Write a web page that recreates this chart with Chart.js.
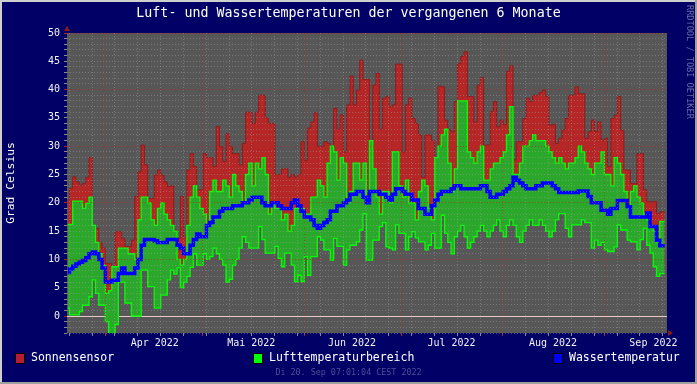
<!DOCTYPE html>
<html>
<head>
<meta charset="utf-8">
<script src="https://cdn.jsdelivr.net/npm/chart.js@4.4.0/dist/chart.umd.min.js"></script>
<style>
  html, body { margin: 0; padding: 0; background: #000066; }
  #wrap { width: 697px; height: 384px; position: relative; }
</style>
</head>
<body>
<div id="wrap"><canvas id="chart" width="697" height="384"></canvas></div>
<script>
const title = "Luft- und Wassertemperaturen der vergangenen 6 Monate";
const yTitle = "Grad Celsius";
const legendNames = ["Sonnensensor", "Lufttemperaturbereich", "Wassertemperatur"];
const stamp = "Di 20. Sep 07:01:04 CEST 2022";
const watermark = "RRDTOOL / TOBI OETIKER";

// x axis: days after Sa 20. Mar 2022 07:01 CET
const spanDays = 183.96;
const monthLabels = ["Apr 2022", "Mai 2022", "Jun 2022", "Jul 2022", "Aug 2022", "Sep 2022"];
const monthStarts = [11.67, 41.67, 72.67, 102.67, 133.67, 164.67];
const labelPos = [26.9, 56.5, 87.4, 117.9, 149.0, 179.8];
const yMin = -3, yMax = 50;

// one value per day (daily bins)
const sunMax = [20.5,22.6,24.6,23.7,23.1,23.4,24.5,28,15.8,15.5,13,
  12,9.3,9.3,7.5,14.9,14.9,13.7,12.3,12.3,13.4,
  21.1,25.5,30.2,26.7,20.8,20.8,24.9,25.8,24.9,23.7,
  22.9,23,15.2,13.7,21.1,14,25.8,28.7,26.4,22.3,
  22.3,28.7,28,28,26.4,33.5,29.9,27.3,32.2,29.9,
  28.7,28.7,26.7,30.5,36,36,34,36,
  39,39,35,34,34,25,25,26,26,24.5,
  25,24.5,25,30.8,27.5,33.2,34.3,35.9,30,30,
  30.8,30.5,29.5,36.7,33,35.5,29,37.3,42.4,37.3,
  39.9,45.2,41.8,41.8,27.5,40.8,42.9,33,38.5,38.8,
  37,37.3,44.5,44.5,29,37.3,38.5,34.9,34,32,
  24.5,32,32,31,27,
  40.6,40.5,34.6,33,32.6,37.9,44.6,45.9,46.7,38.8,38.8,
  34.3,40.8,42.1,30.2,30.2,36.1,37.9,33.4,34.6,33.8,
  43.2,44.2,27.6,30.8,30.8,34.9,38.5,37.9,39,39,
  39.5,39.9,38.8,33.7,33.9,30.5,31.4,32.9,34.9,39,
  39,40.5,39.3,39.3,31.4,32.6,34.6,32.6,34.3,31.1,
  31.4,26.4,34.9,35.5,38.8,32.8,25.8,25.8,23.4,23.4,
  28.7,28.7,22.3,20.2,20.2,
  20.2,18.1,18.4,18.4];

const sunMin = [2,1,1,1,1.5,2.5,2.5,4,7,5,3,
  2.5,2,2,2,0,7,7,3,3,1,
  1,1,9,9,6,6,2,2,4.5,4.5,
  7,9,8,9,6,7,8,9.5,12,10,
  10,12,11,11.5,13,12,11,10,7,7.5,
  10,11,13,15,14,13,13,13,16,14.5,
  12,12,12,13,11,10,12,12,10,7,
  8,7,11,8,11,11,15,14,12.5,12.5,
  11,14.5,13,13,10,12.5,13.5,13.5,14,16,
  19,11,11,14,14,16.5,17.5,13,13,12.5,
  17,15.5,15.5,12.5,15,16,15,14,14,12.5,
  13.5,15.5,13,13,18.5,15.5,14,12,15,16,
  17,15,13,14,15,16,17,16,15,16,
  17,18,16,15,17,18,17,15,14,16,
  17,18,17,17,18,17,16,15,16,18,
  19,19,16.5,15,17,17,17,18,17.5,17.5,
  13,14.5,13.5,14,12.5,12.5,12.5,13,17,16,
  16,14.5,14,14,12.5,14.5,16.5,13.5,12,9.5,8,8.5,8.5];

const airMax = [16.2,16.2,20.3,20.3,20.3,19,19.9,21,16,13,11,
  9,4,4.5,8.7,8.7,12,12,12,11,11,
  10,17,21,21,20,17,16,19,20,18,
  17,16,15,10,9,10,16,21,23,21,
  19,18,16,22,24,22,22,24,23,21,
  25,23,22,20,25,27,23,27,26,28,
  25,18,20,19,19,17,18,15,16,19,
  19,19,18,18,21,21,24,23,21,27,
  30,29,24,28,27,20,22,27,27,24,
  27,21,31,26,21,18,22,22,20,29,
  29,23,21,24,20,20,17,22,24,23,
  19,17,28,30,32,33,27,22,26,38,
  38,38,29,28,27,29,30,24,24,26,
  27,27,28,29,32,37,25,25,27,30,
  30,31,32,31,31,31,30,29,28,27,
  28,27,26,27,27,28,30,29,27,26,
  25,27,27,29,25,25,23,28,27,25,
  22,19,22,23,21,20,18,17,16,15,13,16.7,16.7];

const airMin = [1.4,0.2,0.2,0.2,0.8,1.9,1.9,3.4,6.4,4,1.9,
  1.9,-1,-3.5,-3.5,-1.5,6,6,2.3,2.3,0,
  0,0,8.1,8.1,5.2,5.2,1.4,1.4,3.7,3.7,
  6.4,8.1,7.4,8.5,5,6,7,8.6,11,9,
  9,11,10,10.5,12,11,10,9,6,6.5,
  9,10,12,14,13,12,12,12,15.8,13.5,
  11.1,11.1,11.1,12.3,10.2,8.7,11.1,11.1,9,6.1,
  7.2,6.1,10.5,7.2,10.5,10.5,14,13.4,11.7,11.7,
  9.9,13.7,12.3,12.3,9,11.7,12.5,12.5,13.1,15.2,
  18.1,9.9,9.9,13.4,13.4,15.8,16.5,12.2,12,11.7,
  16.1,14.6,14.6,11.7,14,14.9,13.8,13.1,13.1,11.7,
  12.5,14.6,12,12,17.8,14.6,13,11,14,15,
  16,14,12,13,14,15,16,15,14,15,
  16,17,15,14,16,17,16,14,13,15,
  16,17,16,16,17,16,15,14,15,17,
  18.1,18.1,15.5,14,16.1,16.1,16.1,17,16.5,16.5,
  12,13.4,12.5,13,11.7,11.4,11.4,12.2,16.1,15.2,
  15.2,13.4,13.1,13.1,11.7,13.5,15.5,12.5,11.1,8.7,7,7.5,7.5];

const water = [7.7,8.3,8.8,9.2,9.5,9.8,10.3,11,11.3,11,10,
  8.5,6,6,6.3,6.3,7.5,8.5,7.5,7.5,7.5,
  8.5,10,12.5,13.5,13.5,13.5,13.3,13,13,13,
  13.5,13.5,13.5,12.5,12,11,11,12.5,13.5,14.5,
  14,14,16,16.5,17.5,17.5,18.5,19,19,19,
  19.5,19.5,19.5,20,20,20.5,21,21,21,20,
  19.5,19.5,20,20,19.5,19,19,19,20,20.5,
  19.5,18.5,17.5,17.5,17,16,15.5,16,16.5,17,
  18.5,18.5,19.5,19.5,20,20.5,21.5,21.5,22,22,
  21,20,22,22,22,21.5,21.5,21,20.5,21.5,
  22.5,22.5,22,21.5,21.5,20.5,20.5,19,19,18,
  18,19.5,20.5,21.5,22,22,22,22.5,23,23,
  22.5,22.5,22.5,22.5,22.5,22.5,23,23,22,21,
  21,21.5,21.5,22,22.5,23,24.5,24,23.5,23,
  22.5,22.5,22.5,23,23,23.5,23.5,23.5,23,22.5,
  21.8,21.8,21.8,21.8,21.8,21.8,22.1,22.1,22.1,21.1,
  20,20,20,18.7,18.7,18,19,19,20.4,20.4,
  20.4,19.3,17.5,17.5,17.5,17.5,17.5,18.2,15.8,15.8,13.4,12.4,12.4];

// daily bins start at 00:00 UTC, i.e. 0.75 days after the left edge
const binCenter = (i) => i + 0.25;
const points = (arr) => arr.map((v, i) => ({ x: binCenter(i), y: v }));

const weekLines = [0.71];
for (let d = 7.67; d < spanDays; d += 7) weekLines.push(d);
const yTicks = [];
for (let v = yMin; v <= yMax; v++) yTicks.push(v);

const FONT = "'DejaVu Sans Mono', monospace";
const NAVY = "#000066";
const PLOT_BG = "#575757";
const MINOR = "rgba(165,165,165,0.42)";
const MAJOR = "rgba(185,40,40,0.7)";

const rrdDecor = {
  id: "rrdDecor",
  beforeDraw(chart) {
    const { ctx, chartArea: a, width, height } = chart;
    ctx.save();
    ctx.fillStyle = "#9e9e9e";
    ctx.fillRect(0, 0, width, height);
    ctx.fillStyle = "#cfcfcf";
    ctx.fillRect(0, 0, width - 2, 2);
    ctx.fillRect(0, 0, 2, height - 2);
    ctx.fillStyle = NAVY;
    ctx.fillRect(2, 2, width - 4, height - 4);
    ctx.fillStyle = PLOT_BG;
    ctx.fillRect(a.left, a.top, a.right - a.left, a.bottom - a.top);
    ctx.restore();
  },
  beforeDatasetsDraw(chart) {
    const { ctx, chartArea: a, scales } = chart;
    const y0 = Math.round(scales.y.getPixelForValue(0)) + 0.5;
    ctx.save();
    ctx.strokeStyle = "#e8c8c8";
    ctx.lineWidth = 1;
    ctx.beginPath();
    ctx.moveTo(a.left, y0);
    ctx.lineTo(a.right, y0);
    ctx.stroke();
    ctx.restore();
  },
  afterDraw(chart) {
    const { ctx, chartArea: a, width } = chart;
    ctx.save();
    // axis arrows
    ctx.fillStyle = "#8b1a1a";
    ctx.beginPath();
    ctx.moveTo(a.left - 3, a.top - 2);
    ctx.lineTo(a.left + 3, a.top - 2);
    ctx.lineTo(a.left, a.top - 7);
    ctx.closePath();
    ctx.fill();
    ctx.beginPath();
    ctx.moveTo(a.right + 1, a.bottom - 3);
    ctx.lineTo(a.right + 1, a.bottom + 3);
    ctx.lineTo(a.right + 6, a.bottom);
    ctx.closePath();
    ctx.fill();

    // title
    ctx.fillStyle = "#ffffff";
    ctx.font = "13.3px " + FONT;
    ctx.textAlign = "center";
    ctx.textBaseline = "middle";
    ctx.fillText(title, width / 2, 14);

    // y title
    ctx.save();
    ctx.translate(11, 183);
    ctx.rotate(-Math.PI / 2);
    ctx.font = "11.3px " + FONT;
    ctx.fillText(yTitle, 0, 0);
    ctx.restore();

    // legend
    const items = [
      { x: 16, color: "#b41e32", text: legendNames[0] },
      { x: 254, color: "#00ff00", text: legendNames[1] },
      { x: 554, color: "#0000ff", text: legendNames[2] },
    ];
    ctx.font = "11.5px " + FONT;
    ctx.textAlign = "left";
    items.forEach((it) => {
      ctx.fillStyle = it.color;
      ctx.fillRect(it.x, 354, 8, 9);
      ctx.strokeStyle = "#000000";
      ctx.lineWidth = 1;
      ctx.strokeRect(it.x - 0.5, 353.5, 9, 10);
      ctx.fillStyle = "#ffffff";
      ctx.fillText(it.text, it.x + 15, 358.5);
    });

    // timestamp
    ctx.fillStyle = "#4e4e9a";
    ctx.font = "8.4px " + FONT;
    ctx.textAlign = "center";
    ctx.fillText(stamp, width / 2, 373);

    // watermark
    ctx.save();
    ctx.translate(689, 5);
    ctx.rotate(Math.PI / 2);
    ctx.fillStyle = "rgba(190,190,215,0.55)";
    ctx.font = "8.6px " + FONT;
    ctx.textAlign = "left";
    ctx.fillText(watermark, 0, 0);
    ctx.restore();
    ctx.restore();
  },
};

const lineBase = { pointRadius: 0, pointHoverRadius: 0, stepped: "middle", tension: 0 };

new Chart(document.getElementById("chart"), {
  type: "line",
  data: {
    datasets: [
      { ...lineBase, label: "Wassertemperatur", data: points(water), borderColor: "#0000ff", borderWidth: 3.5, fill: false },
      { ...lineBase, label: "Luft max", data: points(airMax), borderColor: "#00ff00", borderWidth: 1.3, fill: false },
      { ...lineBase, label: "Luft min", data: points(airMin), borderColor: "#00ff00", borderWidth: 1.3, fill: "-1", backgroundColor: "#2ba82b" },
      { ...lineBase, label: "Sonne max", data: points(sunMax), borderColor: "#8e1c1c", borderWidth: 1, fill: false },
      { ...lineBase, label: "Sonne min", data: points(sunMin), borderColor: "rgba(0,0,0,0)", borderWidth: 0, fill: "-1", backgroundColor: "#b52626" },
    ],
  },
  options: {
    responsive: false,
    animation: false,
    events: [],
    layout: { padding: { left: 0, top: 33, right: 30, bottom: 31 } },
    plugins: { legend: { display: false }, title: { display: false }, tooltip: { enabled: false } },
    scales: {
      x: {
        type: "linear",
        min: 0,
        max: spanDays,
        afterFit: (s) => { s.height = 20; },
        afterBuildTicks: (s) => {
          s.ticks = [...weekLines, ...labelPos, ...monthStarts].map((v) => ({ value: v }));
        },
        grid: {
          z: 1,
          lineWidth: 1,
          drawTicks: true,
          tickLength: 3,
          color: (c) => {
            const v = c.tick && c.tick.value;
            if (labelPos.includes(v)) return "rgba(0,0,0,0)";
            return monthStarts.includes(v) ? MAJOR : MINOR;
          },
          tickColor: (c) => {
            const v = c.tick && c.tick.value;
            if (labelPos.includes(v)) return "rgba(0,0,0,0)";
            return monthStarts.includes(v) ? "#a02828" : "#8a8a8a";
          },
        },
        border: { display: false, dash: [1, 2] },
        ticks: {
          autoSkip: false,
          maxRotation: 0,
          padding: 1,
          color: "#f2f2f2",
          font: { family: FONT, size: 10 },
          callback: (v) => {
            const k = labelPos.indexOf(v);
            return k >= 0 ? monthLabels[k] : "";
          },
        },
      },
      y: {
        type: "linear",
        min: yMin,
        max: yMax,
        afterFit: (s) => { s.width = 67; },
        afterBuildTicks: (s) => { s.ticks = yTicks.map((v) => ({ value: v })); },
        grid: {
          z: 1,
          lineWidth: 1,
          drawTicks: true,
          tickLength: 3,
          color: (c) => {
            const v = c.tick && c.tick.value;
            if (v === 0) return "rgba(0,0,0,0)";
            return v % 10 === 0 ? MAJOR : MINOR;
          },
          tickColor: (c) => {
            const v = c.tick && c.tick.value;
            return v % 10 === 0 ? "#a02828" : "#8a8a8a";
          },
        },
        border: { display: false, dash: [1, 2] },
        ticks: {
          autoSkip: false,
          padding: 4,
          color: "#f2f2f2",
          font: { family: FONT, size: 10 },
          callback: (v) => (v >= 0 && v % 5 === 0 ? String(v) : ""),
        },
      },
    },
  },
  plugins: [rrdDecor],
});
</script>
</body>
</html>
